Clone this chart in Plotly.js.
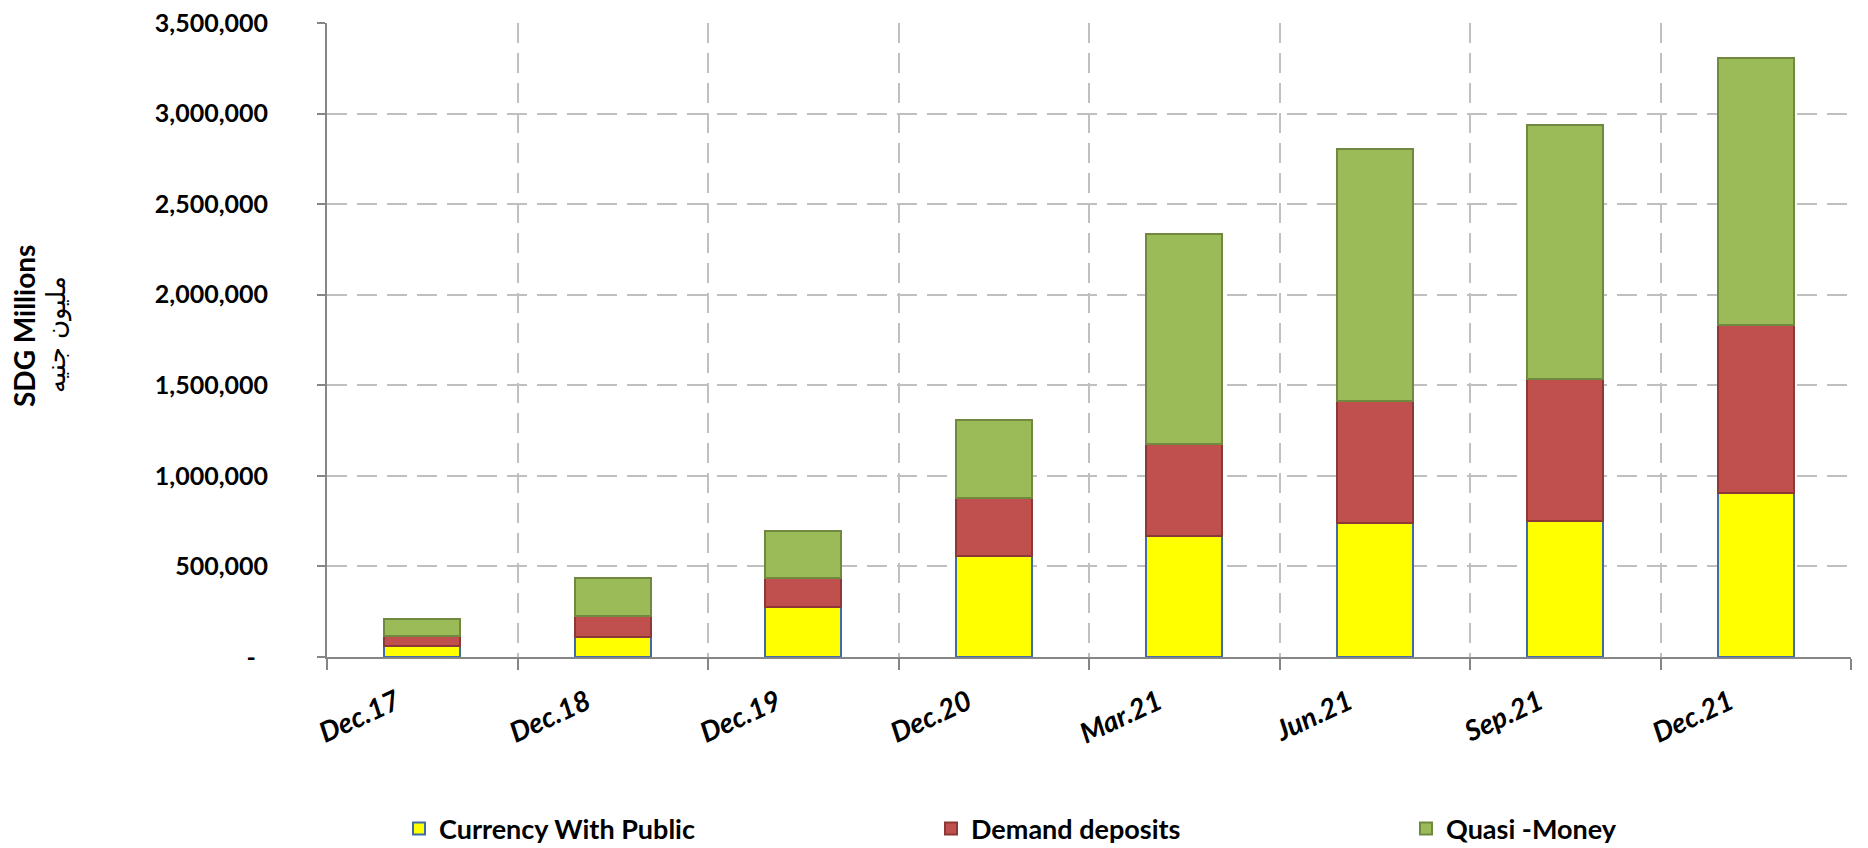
<!DOCTYPE html>
<html>
<head>
<meta charset="utf-8">
<script src="https://cdn.plot.ly/plotly-3.0.1.min.js"></script>
<style>html,body{margin:0;padding:0;background:#fff;}#chart{width:1868px;height:848px;}</style>
</head>
<body>
<div id="chart"></div>
<script>
const categories = ["Dec.17","Dec.18","Dec.19","Dec.20","Mar.21","Jun.21","Sep.21","Dec.21"];
const currencyWithPublic = [63000, 112000, 278000, 559000, 667000, 739000, 753000, 908000];
const demandDeposits = [55000, 117000, 158000, 318000, 511000, 675000, 781000, 926000];
const quasiMoney = [92000, 205000, 258000, 430000, 1156000, 1391000, 1403000, 1471000];
const yTickVals = [0, 500000, 1000000, 1500000, 2000000, 2500000, 3000000, 3500000];
const yTickText = ["-\u00a0\u00a0", "500,000", "1,000,000", "1,500,000", "2,000,000", "2,500,000", "3,000,000", "3,500,000"];
const seriesNames = ["Currency With Public", "Demand deposits", "Quasi -Money"];

const plotL = 327, plotR = 1851, plotT = 23, plotB = 657, W = 1868, H = 848;
const pw = plotR - plotL, ph = plotB - plotT;
const px2x = p => (p - plotL) / pw;
const py2y = p => (plotB - p) / ph;

const baseFont = "Lato, 'Open Sans', sans-serif";

const traces = [
  {type:"bar", name:seriesNames[0], x:categories, y:currencyWithPublic,
   marker:{color:"#FFFF00", line:{color:"#3F6BA8", width:2}}, legend:"legend"},
  {type:"bar", name:seriesNames[1], x:categories, y:demandDeposits,
   marker:{color:"#C0504D", line:{color:"#8C3836", width:2}}, legend:"legend2"},
  {type:"bar", name:seriesNames[2], x:categories, y:quasiMoney,
   marker:{color:"#9BBB59", line:{color:"#71893F", width:2}}, legend:"legend3"}
];

const legFont = {family: baseFont, size: 27, color: "#000", weight: 700};
const legCommon = {orientation:"h", yanchor:"middle", xanchor:"left", y: py2y(829),
  font: legFont, bgcolor:"rgba(0,0,0,0)", itemclick:false, itemdoubleclick:false};

const layout = {
  width: W, height: H,
  margin: {l: plotL, r: W - plotR, t: plotT, b: H - plotB, pad: 0, autoexpand: false},
  paper_bgcolor: "#fff", plot_bgcolor: "#fff",
  barmode: "stack", bargap: 0.6,
  showlegend: true,
  legend: Object.assign({}, legCommon, {x: px2x(399)}),
  legend2: Object.assign({}, legCommon, {x: px2x(931)}),
  legend3: Object.assign({}, legCommon, {x: px2x(1406)}),
  xaxis: {
    type: "category", range: [-0.5, 7.5],
    tickson: "boundaries", ticks: "outside", ticklen: 11, tickwidth: 2, tickcolor: "#868686",
    showline: true, linecolor: "#868686", linewidth: 2,
    showgrid: true, gridcolor: "#C0C0C0", gridwidth: 2, griddash: "20px,10px",
    tickangle: -25, ticklabelstandoff: 16, ticklabelshift: -26,
    tickfont: {family: baseFont, size: 28, color: "#000", weight: 700, style: "italic"},
    fixedrange: true
  },
  yaxis: {
    range: [0, 3500000], tickmode: "array", tickvals: yTickVals, ticktext: yTickText,
    ticks: "outside", ticklen: 8, tickwidth: 2, tickcolor: "#868686",
    showline: true, linecolor: "#868686", linewidth: 2,
    showgrid: true, gridcolor: "#C0C0C0", gridwidth: 2, griddash: "20px,10px",
    zeroline: false, ticklabelstandoff: 44,
    tickfont: {family: baseFont, size: 25, color: "#000", weight: 700},
    fixedrange: true
  },
  annotations: [
    {text: "SDG Millions", xref: "paper", yref: "paper", x: 0, y: py2y(326),
     xshift: 24 - plotL, xanchor: "center", yanchor: "middle", textangle: -90, showarrow: false,
     font: {family: baseFont, size: 28, color: "#000", weight: 700}},
    {text: "مليون جنيه", xref: "paper", yref: "paper", x: 0, y: py2y(335),
     xshift: 56 - plotL, xanchor: "center", yanchor: "middle", textangle: -90, showarrow: false,
     font: {family: "'DejaVu Sans', sans-serif", size: 26, color: "#000"}}
  ]
};

Plotly.newPlot("chart", traces, layout, {displayModeBar: false, staticPlot: true});
</script>
</body>
</html>
